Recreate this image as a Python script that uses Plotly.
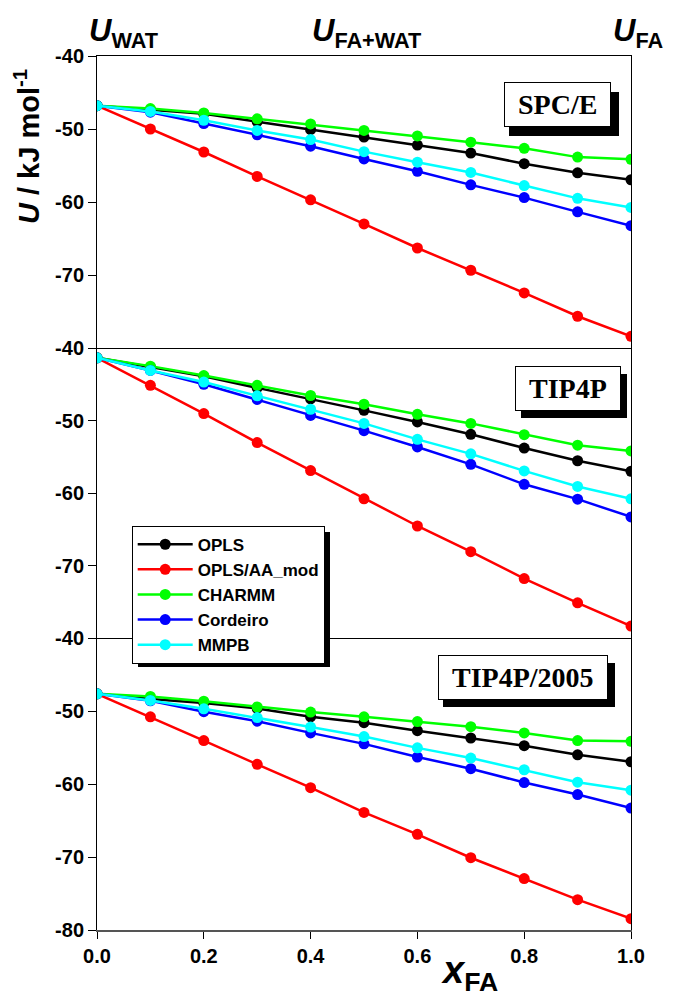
import plotly.graph_objects as go
from plotly.subplots import make_subplots

x_fa = [0.0, 0.1, 0.2, 0.3, 0.4, 0.5, 0.6, 0.7, 0.8, 0.9, 1.0]

series_names = ["OPLS", "OPLS/AA_mod", "CHARMM", "Cordeiro", "MMPB"]
series_colors = ["#000000", "#ff0000", "#00ff00", "#0000ff", "#00ffff"]

# SPC/E panel
spce_opls = [-46.8, -47.35, -47.9, -49.0, -50.1, -51.1, -52.2, -53.3, -54.75, -56.0, -56.95]
spce_oplsaa = [-46.8, -50.0, -53.15, -56.5, -59.7, -63.0, -66.3, -69.35, -72.45, -75.65, -78.4]
spce_charmm = [-46.8, -47.2, -47.8, -48.6, -49.3, -50.2, -50.95, -51.8, -52.65, -53.85, -54.15]
spce_cordeiro = [-46.8, -47.7, -49.25, -50.8, -52.35, -54.1, -55.8, -57.65, -59.4, -61.35, -63.25]
spce_mmpb = [-46.8, -47.6, -48.8, -50.2, -51.45, -53.1, -54.55, -55.95, -57.75, -59.5, -60.75]

# TIP4P panel
tip4p_opls = [-41.35, -42.65, -43.9, -45.5, -47.0, -48.6, -50.2, -51.9, -53.8, -55.55, -57.0]
tip4p_oplsaa = [-41.35, -45.15, -49.05, -53.05, -56.9, -60.8, -64.55, -68.1, -71.8, -75.15, -78.35]
tip4p_charmm = [-41.35, -42.5, -43.8, -45.15, -46.55, -47.75, -49.15, -50.4, -51.95, -53.4, -54.2]
tip4p_cordeiro = [-41.35, -43.1, -45.0, -47.1, -49.3, -51.4, -53.65, -56.05, -58.8, -60.85, -63.3]
tip4p_mmpb = [-41.35, -43.1, -44.7, -46.6, -48.45, -50.4, -52.6, -54.6, -56.95, -59.1, -60.8]

# TIP4P/2005 panel
t2005_opls = [-47.65, -48.35, -48.9, -49.65, -50.8, -51.6, -52.7, -53.7, -54.75, -56.0, -56.95]
t2005_oplsaa = [-47.65, -50.8, -54.05, -57.3, -60.5, -63.9, -66.9, -70.1, -72.95, -75.85, -78.45]
t2005_charmm = [-47.65, -48.0, -48.65, -49.45, -50.15, -50.8, -51.45, -52.15, -53.0, -54.05, -54.15]
t2005_cordeiro = [-47.65, -48.6, -50.1, -51.4, -53.0, -54.5, -56.3, -57.9, -59.8, -61.45, -63.3]
t2005_mmpb = [-47.65, -48.55, -49.7, -50.9, -52.2, -53.5, -55.05, -56.45, -58.05, -59.75, -60.85]

panel_labels = ["SPC/E", "TIP4P", "TIP4P/2005"]
y_ticks_upper = [-70, -60, -50, -40]
y_ticks_lower = [-80, -70, -60, -50, -40]
y_text_upper = ["-70", "-60", "-50", "-40"]
y_text_lower = ["-80", "-70", "-60", "-50", "-40"]
x_ticks = [0.0, 0.2, 0.4, 0.6, 0.8, 1.0]
x_tick_text = ["0.0", "0.2", "0.4", "0.6", "0.8", "1.0"]

panels = [
    [spce_opls, spce_oplsaa, spce_charmm, spce_cordeiro, spce_mmpb],
    [tip4p_opls, tip4p_oplsaa, tip4p_charmm, tip4p_cordeiro, tip4p_mmpb],
    [t2005_opls, t2005_oplsaa, t2005_charmm, t2005_cordeiro, t2005_mmpb],
]

SANS = "Liberation Sans, Arial, sans-serif"
SERIF = "Liberation Serif, Times New Roman, serif"

# page has an 8px body margin; figure is sized so the plot area lands at
# x 97..631, y 56..930 in the 673x999 window
OFF = 8
W, Hfig = 673 - OFF, 999 - OFF
ML, MR, MT, MB = 97 - OFF, 42, 56 - OFF, 69
PW = 534.0
H = 874.0


def px_x(px):
    return (px - 97) / PW


def px_y(py):
    return (930 - py) / H


fig = make_subplots(rows=3, cols=1, shared_xaxes=True, vertical_spacing=0)

for r, panel in enumerate(panels, start=1):
    for name, color, ys in zip(series_names, series_colors, panel):
        fig.add_trace(
            go.Scatter(
                x=x_fa, y=ys, mode="lines+markers", name=name,
                legendgroup=name, showlegend=(r == 1),
                line=dict(color=color, width=2.5),
                marker=dict(color=color, size=11),
            ),
            row=r, col=1,
        )

dom = [[px_y(348), 1.0], [px_y(638), px_y(348)], [0.0, px_y(638)]]

for r in range(1, 4):
    fig.update_yaxes(
        row=r, col=1, range=[-80, -40], domain=dom[r - 1],
        tickvals=y_ticks_lower if r == 3 else y_ticks_upper,
        ticktext=y_text_lower if r == 3 else y_text_upper,
        ticks="outside", ticklen=8, tickwidth=1, tickcolor="black",
        showline=True, mirror=True, linecolor="black", linewidth=1,
        showgrid=False, zeroline=False,
        tickfont=dict(family=SANS, size=20, color="black", weight="bold"),
    )
    fig.update_xaxes(
        row=r, col=1, range=[0, 1],
        showline=True, mirror=(r == 1), linecolor="black", linewidth=1,
        showgrid=False, zeroline=False,
        tickvals=x_ticks, ticktext=x_tick_text,
        ticks="outside" if r == 3 else "", ticklen=7, tickcolor="black",
        showticklabels=(r == 3),
        tickfont=dict(family=SANS, size=20, color="black", weight="bold"),
    )
fig.update_xaxes(row=3, col=1, linewidth=2, linecolor="#555555")

annotations = []
label_pos = [(0.862, -46.7), (0.882, -45.65), (0.798, -45.4)]
for r, (lab, (lx, ly)) in enumerate(zip(panel_labels, label_pos), start=1):
    xr = "x" if r == 1 else f"x{r}"
    yr = "y" if r == 1 else f"y{r}"
    annotations.append(dict(
        x=lx, y=ly, xref=xr, yref=yr, text="\u00a0" + lab + "\u00a0", showarrow=False,
        font=dict(family=SERIF, size=28, color="black", weight="bold"),
        bgcolor="white", bordercolor="black", borderwidth=1, borderpad=6,
    ))

top_font = dict(family=SANS, size=31, color="black", weight="bold")
for txt, px in [("<i>U</i><sub>WAT</sub>", 87), ("<i>U</i><sub>FA+WAT</sub>", 310), ("<i>U</i><sub>FA</sub>", 611)]:
    annotations.append(dict(
        x=px_x(px), y=px_y(55), xref="paper", yref="paper",
        xanchor="left", yanchor="bottom", text=txt, showarrow=False, font=top_font,
    ))

annotations.append(dict(
    x=px_x(27), y=px_y(147), xref="paper", yref="paper",
    xanchor="center", yanchor="middle", textangle=-90,
    text="<i>U</i> / kJ mol<sup>-1</sup>", showarrow=False,
    font=dict(family=SANS, size=29, color="black", weight="bold"),
))
annotations.append(dict(
    x=px_x(469), y=px_y(999), xref="paper", yref="paper",
    xanchor="center", yanchor="bottom",
    text="<i>x</i><sub>FA</sub>", showarrow=False,
    font=dict(family=SANS, size=38, color="black", weight="bold"),
))

# drop shadows (legend and the three panel-label boxes), in window pixels
shadow_boxes = [
    (138, 330, 532, 667),
    (509, 619, 92, 136),
    (521, 627, 374, 418),
    (443, 615, 663, 707),
]
shapes = [dict(
    type="rect", xref="paper", yref="paper", layer="above",
    x0=px_x(a), x1=px_x(b), y0=px_y(d), y1=px_y(c),
    fillcolor="black", line=dict(width=0),
) for a, b, c, d in shadow_boxes]

fig.update_layout(
    width=W, height=Hfig, autosize=False,
    margin=dict(l=ML, r=MR, t=MT, b=MB),
    paper_bgcolor="white", plot_bgcolor="white",
    annotations=annotations, shapes=shapes,
    legend=dict(
        x=px_x(131.7), y=px_y(525.7), xanchor="left", yanchor="top",
        bgcolor="white", bordercolor="black", borderwidth=1,
        font=dict(family=SANS, size=17, color="black", weight="bold"),
        itemwidth=55, traceorder="normal",
    ),
    showlegend=True,
)

fig.write_html("out.html")
